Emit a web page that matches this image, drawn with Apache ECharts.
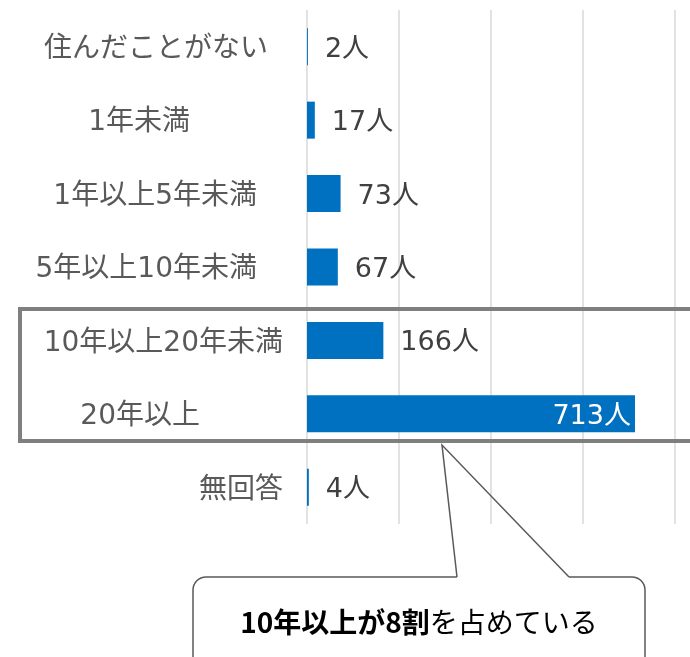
<!DOCTYPE html>
<html><head><meta charset="utf-8">
<script src="https://cdn.jsdelivr.net/npm/echarts@6/dist/echarts.min.js"></script>
<style>html,body{margin:0;padding:0;background:#fff}#c{width:690px;height:657px}</style>
</head><body><div id="c"></div>
<script>
const categories = ['住んだことがない','1年未満','1年以上5年未満','5年以上10年未満','10年以上20年未満','20年以上','無回答'];
const values = [2,17,73,67,166,713,4];
const unit = '人';
const insideIndex = 5;
const calloutBold = '10年以上が8割';
const calloutRest = 'を占めている';
const FONT = '"DejaVu Sans", "Noto Sans CJK JP", sans-serif';
const CJK = '"Noto Sans CJK JP", "Noto Sans", sans-serif';
// extra right shift of each category label (layout only)
const labelPad = [17, 95, 28, 28, 2, 85, 2];

const chart = echarts.init(document.getElementById('c'));
chart.setOption({
  animation:false,
  backgroundColor:'#fff',
  grid:{left:307, right:15, top:10, bottom:133},
  xAxis:{type:'value', min:0, max:800, interval:200,
    axisLabel:{show:false}, axisLine:{show:false}, axisTick:{show:false},
    splitLine:{lineStyle:{color:'#d9d9d9', width:1.5}}},
  yAxis:{type:'category', inverse:true, data:categories,
    axisLine:{show:false}, axisTick:{show:false},
    axisLabel:{show:false}},
  series:[
    {type:'bar', barWidth:37,
      itemStyle:{color:'#0070C0'},
      label:{show:true, position:'right', distance:17, fontSize:27, color:'#404040', fontFamily:FONT,
        offset:[0,3], formatter:p=>p.value+unit},
      data:values.map((v,i)=> i===insideIndex ? {value:v, label:{position:'insideRight', distance:4, color:'#fff'}} : v)
    },
    {type:'bar', barWidth:37, barGap:'-100%', silent:true, z:1,
      itemStyle:{color:'rgba(0,0,0,0)'},
      label:{show:true, position:'left', distance:22, fontSize:28, color:'#595959', fontFamily:FONT,
        formatter:p=>p.name},
      data:categories.map((c,i)=>({value:0, label:{offset:[-labelPad[i],3]}}))
    }
  ],
  graphic:[
    {type:'rect', z:100, shape:{x:20, y:309, width:690, height:132},
      style:{fill:null, stroke:'#7f7f7f', lineWidth:4}},
    {type:'rect', z:100, shape:{x:193, y:577, width:452, height:140, r:13},
      style:{fill:'#fff', stroke:'#595959', lineWidth:1.5}},
    {type:'line', z:101, shape:{x1:457, y1:577, x2:569, y2:577},
      style:{stroke:'#fff', lineWidth:3}},
    {type:'polyline', z:101, shape:{points:[[457,577],[442,445],[569,577]]},
      style:{fill:null, stroke:'#595959', lineWidth:1.5}},
    {type:'text', z:102, x:419, y:622,
      style:{text:'{b|'+calloutBold+'}{n|'+calloutRest+'}', align:'center', verticalAlign:'middle',
        rich:{b:{fontSize:28, fontWeight:'bold', color:'#595959', fontFamily:CJK},
              n:{fontSize:28, color:'#595959', fontFamily:CJK}}}}
  ]
});
</script></body></html>
